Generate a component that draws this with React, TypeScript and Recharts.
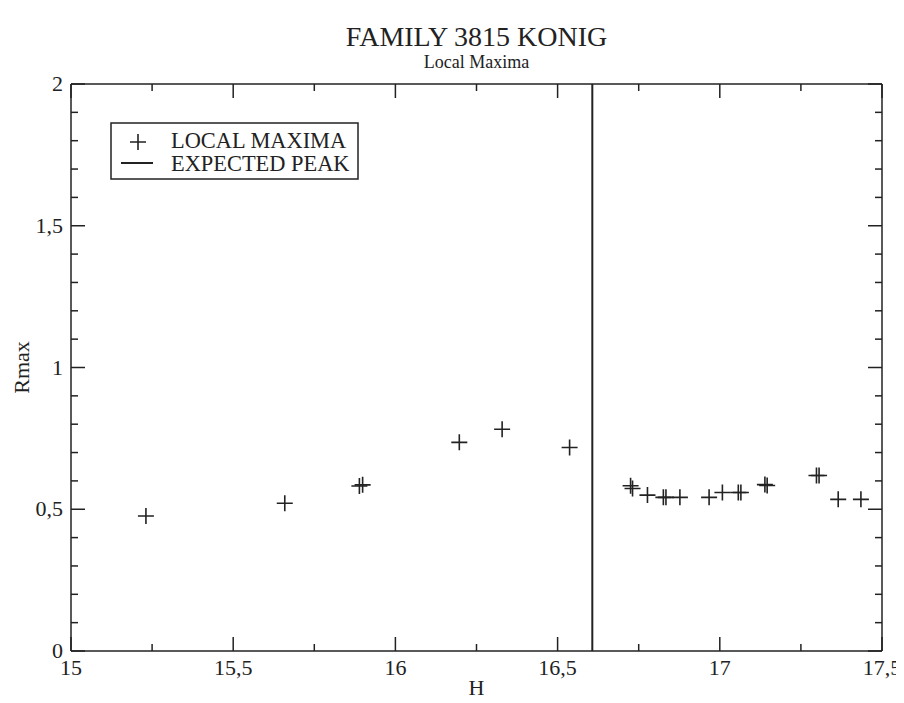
import React from 'react';
import {
  ScatterChart,
  Scatter,
  XAxis,
  YAxis,
  ReferenceLine,
  Customized,
} from 'recharts';

// Local maxima of Rmax against absolute magnitude H
const hValues = [
  15.231, 15.659, 15.889, 15.899, 16.197, 16.329, 16.537, 16.725, 16.731,
  16.777, 16.826, 16.834, 16.877, 16.967, 17.008, 17.057, 17.065, 17.139,
  17.146, 17.298, 17.306, 17.365, 17.435,
];
const rmaxValues = [
  0.476, 0.521, 0.582, 0.586, 0.736, 0.782, 0.718, 0.583, 0.573, 0.55,
  0.542, 0.542, 0.542, 0.542, 0.559, 0.559, 0.559, 0.587, 0.584, 0.619,
  0.619, 0.535, 0.535,
];
const expectedPeakH = 16.607;

const xMajorTicks = [15, 15.5, 16, 16.5, 17, 17.5];
const xMinorTicks = [15.25, 15.75, 16.25, 16.75, 17.25];
const yMajorTicks = [0, 0.5, 1, 1.5, 2];
const yMinorTicks = [
  0.1, 0.2, 0.3, 0.4, 0.6, 0.7, 0.8, 0.9, 1.1, 1.2, 1.3, 1.4, 1.6, 1.7, 1.8,
  1.9,
];

const title = 'FAMILY 3815 KONIG';
const subtitle = 'Local Maxima';
const xLabel = 'H';
const yLabel = 'Rmax';
const legendItems = ['LOCAL MAXIMA', 'EXPECTED PEAK'];

const points = hValues.map((h, i) => ({ h, r: rmaxValues[i] }));
const xTicks = [...xMajorTicks, ...xMinorTicks].sort((a, b) => a - b);
const yTicks = [...yMajorTicks, ...yMinorTicks].sort((a, b) => a - b);

const INK = '#222';
const FONT = '"Liberation Serif", "Times New Roman", Times, serif';
const W = 896;
const H = 695;
// plot box: left 63, right 874, top 76, bottom 643 (chart coordinates)
const BOX = { left: 63, right: 874, top: 76, bottom: 643 };
const AX = 1;
const M = {
  top: BOX.top - AX,
  right: W - BOX.right - AX,
  bottom: H - BOX.bottom - AX,
  left: BOX.left - AX,
};

const fmt = (v: number) => String(v).replace('.', ',');
const isMajor = (v: number, majors: number[]) =>
  majors.some((m) => Math.abs(m - v) < 1e-9);

type Side = 'bottom' | 'top' | 'left' | 'right';

const labelStyle = { fontFamily: FONT, fontSize: 22, fill: INK };

const makeTick = (side: Side, majors: number[], labels: boolean) => (props: any) => {
  const { x, y, payload } = props;
  const v = payload.value as number;
  const major = isMajor(v, majors);
  const len = major ? 14 : 7;
  let line: [number, number, number, number];
  if (side === 'bottom') line = [x, y, x, y - len];
  else if (side === 'top') line = [x, y, x, y + len];
  else if (side === 'left') line = [x, y, x + len, y];
  else line = [x, y, x - len, y];
  return (
    <g>
      <line x1={line[0]} y1={line[1]} x2={line[2]} y2={line[3]} stroke={INK} strokeWidth={1.5} />
      {labels && major && side === 'bottom' && (
        <text x={x} y={y + 24} textAnchor="middle" style={labelStyle}>
          {fmt(v)}
        </text>
      )}
      {labels && major && side === 'left' && (
        <text x={x - 8} y={y + 7} textAnchor="end" style={labelStyle}>
          {fmt(v)}
        </text>
      )}
    </g>
  );
};

const Cross = (props: any) => {
  const { cx, cy } = props;
  if (cx == null || cy == null) return null;
  return (
    <path
      d={`M${cx - 8},${cy}H${cx + 8}M${cx},${cy - 8}V${cy + 8}`}
      stroke={INK}
      strokeWidth={1.6}
      fill="none"
    />
  );
};

// Titles, axis names and the legend box
const Decorations = () => {
  const cx = BOX.left + (BOX.right - BOX.left) / 2;
  const cy = BOX.top + (BOX.bottom - BOX.top) / 2;
  return (
    <g style={{ fontFamily: FONT }} fill={INK}>
      <text x={cx} y={38} textAnchor="middle" fontSize={28}>{title}</text>
      <text x={cx} y={60} textAnchor="middle" fontSize={18}>{subtitle}</text>
      <text x={cx} y={687} textAnchor="middle" fontSize={22}>{xLabel}</text>
      <text
        x={21}
        y={cy}
        textAnchor="middle"
        fontSize={22}
        transform={`rotate(-90 21 ${cy})`}
      >
        {yLabel}
      </text>
      <rect x={103} y={115} width={247} height={56} fill="#fff" stroke={INK} strokeWidth={1.5} />
      <path d="M122,134H138M130,126V142" stroke={INK} strokeWidth={1.6} />
      <line x1={113} y1={155} x2={145} y2={155} stroke={INK} strokeWidth={2} />
      <text x={163} y={140} fontSize={22.4}>{legendItems[0]}</text>
      <text x={163} y={163} fontSize={22.4}>{legendItems[1]}</text>
    </g>
  );
};

export default function App() {
  return (
    <div style={{ width: W, height: H, background: '#fff' }}>
      <ScatterChart width={W} height={H} margin={M}>
        <XAxis
          dataKey="h"
          type="number"
          domain={[15, 17.5]}
          ticks={xTicks}
          interval={0}
          height={AX}
          tickSize={0}
          tickMargin={0}
          axisLine={{ stroke: INK, strokeWidth: 1.5 }}
          tickLine={false}
          tick={makeTick('bottom', xMajorTicks, true)}
          allowDataOverflow
        />
        <XAxis
          xAxisId="top"
          orientation="top"
          dataKey="h"
          type="number"
          domain={[15, 17.5]}
          ticks={xTicks}
          interval={0}
          height={AX}
          tickSize={0}
          tickMargin={0}
          axisLine={{ stroke: INK, strokeWidth: 1.5 }}
          tickLine={false}
          tick={makeTick('top', xMajorTicks, false)}
          allowDataOverflow
        />
        <YAxis
          dataKey="r"
          type="number"
          domain={[0, 2]}
          ticks={yTicks}
          interval={0}
          width={AX}
          tickSize={0}
          tickMargin={0}
          axisLine={{ stroke: INK, strokeWidth: 1.5 }}
          tickLine={false}
          tick={makeTick('left', yMajorTicks, true)}
          allowDataOverflow
        />
        <YAxis
          yAxisId="right"
          orientation="right"
          dataKey="r"
          type="number"
          domain={[0, 2]}
          ticks={yTicks}
          interval={0}
          width={AX}
          tickSize={0}
          tickMargin={0}
          axisLine={{ stroke: INK, strokeWidth: 1.5 }}
          tickLine={false}
          tick={makeTick('right', yMajorTicks, false)}
          allowDataOverflow
        />
        <ReferenceLine x={expectedPeakH} stroke={INK} strokeWidth={2} />
        <Scatter data={points} shape={Cross} isAnimationActive={false} />
        <Scatter
          data={points}
          xAxisId="top"
          yAxisId="right"
          shape={() => null}
          isAnimationActive={false}
          legendType="none"
        />
        <Customized component={Decorations} />
      </ScatterChart>
    </div>
  );
}
